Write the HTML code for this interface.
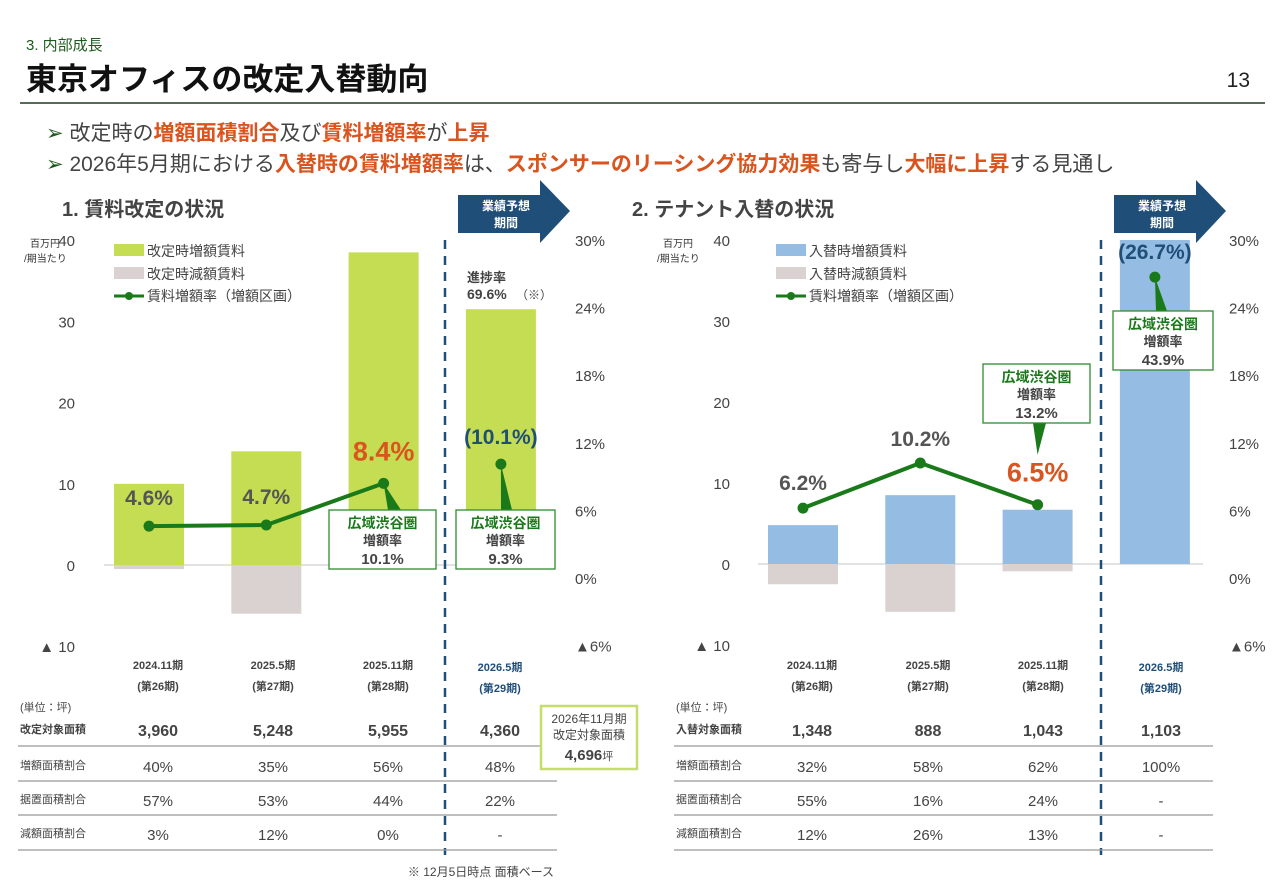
<!DOCTYPE html>
<html><head><meta charset="utf-8">
<style>
html,body{margin:0;padding:0;background:#fff;}
svg{display:block;font-family:"Liberation Sans","Noto Sans CJK JP",sans-serif;}
</style></head>
<body>
<svg id="s" width="1280" height="886" viewBox="0 0 1280 886" xmlns="http://www.w3.org/2000/svg">
<text x="26" y="50" font-size="15" fill="#1e5a1e">3. 内部成長</text>
<text x="26" y="90" font-size="31" font-weight="bold" fill="#111">東京オフィスの改定入替動向</text>
<text x="1250" y="87" font-size="21" fill="#222" text-anchor="end">13</text>
<rect x="20" y="102" width="1245" height="2" fill="#5a6a5a"/>
<text x="46" y="140" font-size="21" fill="#444"><tspan fill="#1e5a1e">➢</tspan> 改定時の<tspan fill="#d9541e" font-weight="bold">増額面積割合</tspan>及び<tspan fill="#d9541e" font-weight="bold">賃料増額率</tspan>が<tspan fill="#d9541e" font-weight="bold">上昇</tspan></text>
<text x="46" y="171" font-size="21" fill="#444"><tspan fill="#1e5a1e">➢</tspan> 2026年5月期における<tspan fill="#d9541e" font-weight="bold">入替時の賃料増額率</tspan>は、<tspan fill="#d9541e" font-weight="bold">スポンサーのリーシング協力効果</tspan>も寄与し<tspan fill="#d9541e" font-weight="bold">大幅に上昇</tspan>する見通し</text>
<text x="62" y="216" font-size="20" font-weight="bold" fill="#444">1. 賃料改定の状況</text>
<text x="632" y="216" font-size="20" font-weight="bold" fill="#444">2. テナント入替の状況</text>
<g id="c1"></g><g id="c2"></g>
<text x="554" y="876" font-size="12" fill="#444" text-anchor="end">※ 12月5日時点 面積ベース</text>
</svg>
<script>
const periods = ["2024.11期","2025.5期","2025.11期","2026.5期"];
const periodNos = ["(第26期)","(第27期)","(第28期)","(第29期)"];
const c1Increase = [10, 14, 38.5, 31.5];
const c1Decrease = [-0.5, -6, 0, 0];
const c1Rate = [4.6, 4.7, 8.4, 10.1];
const c1RateLabels = ["4.6%","4.7%","8.4%","(10.1%)"];
const c2Increase = [4.8, 8.5, 6.7, 40];
const c2Decrease = [-2.5, -5.9, -0.9, 0];
const c2Rate = [6.2, 10.2, 6.5, 26.7];
const c2RateLabels = ["6.2%","10.2%","6.5%","(26.7%)"];
const leftTicks = [40,30,20,10,0,-10];
const rightTicks = [30,24,18,12,6,0,-6];
const t1Area = ["3,960","5,248","5,955","4,360"];
const t1Inc = ["40%","35%","56%","48%"];
const t1Flat = ["57%","53%","44%","22%"];
const t1Dec = ["3%","12%","0%","-"];
const t2Area = ["1,348","888","1,043","1,103"];
const t2Inc = ["32%","58%","62%","100%"];
const t2Flat = ["55%","16%","24%","-"];
const t2Dec = ["12%","26%","13%","-"];

const NS="http://www.w3.org/2000/svg";
function mk(p,tag,a,txt){const e=document.createElementNS(NS,tag);for(const k in a)e.setAttribute(k,a[k]);if(txt!==undefined)e.textContent=txt;p.appendChild(e);return e;}

function chart(g,o){
  const y=v=>o.y0-v*o.pxu;
  const yr=v=>578-v*11.27;
  const xc=i=>o.x0+i*117.3;
  leftTicks.forEach(t=>{const e=mk(g,'text',{x:o.lx,y:y(t)+6,'font-size':15,fill:'#444','text-anchor':'end'},t<0?'▲ '+(-t):String(t));
    
    });
  rightTicks.forEach(t=>{const e=mk(g,'text',{x:o.rx,y:yr(t)+6,'font-size':15,fill:'#444'},t<0?'▲'+(-t)+'%':t+'%');
    
    });
  const u1=mk(g,'text',{x:o.ux,y:247,'font-size':10,fill:'#333'},'百万円');
  
  
  mk(g,'text',{x:o.ux-6,y:262,'font-size':10,fill:'#333'},'/期当たり');
  const z=mk(g,'line',{x1:o.x0-45,x2:o.x0+400,y1:y(0),y2:y(0),stroke:'#d8d8d8','stroke-width':1.5});
  
  
  o.inc.forEach((v,i)=>{const b=mk(g,'rect',{x:xc(i)-35,y:y(v),width:70,height:y(0)-y(v),fill:o.col});
    
    });
  o.dec.forEach((v,i)=>{if(v===0)return;const b=mk(g,'rect',{x:xc(i)-35,y:y(0),width:70,height:y(v)-y(0),fill:'#d9d2d0'});
    
    });
  const lg=[[o.leg1,o.col],[o.leg2,'#d9d2d0']];
  lg.forEach((l,i)=>{const r=mk(g,'rect',{x:o.legx,y:244+i*23,width:30,height:12,fill:l[1]});
    
    
    const t=mk(g,'text',{x:o.legx+33,y:256+i*23,'font-size':14,fill:'#444'},l[0]);
    
    });
  mk(g,'line',{x1:o.legx,x2:o.legx+30,y1:296,y2:296,stroke:'#1a7a1a','stroke-width':3});
  mk(g,'circle',{cx:o.legx+15,cy:296,r:4,fill:'#1a7a1a'});
  const lt=mk(g,'text',{x:o.legx+33,y:301,'font-size':14,fill:'#444'},'賃料増額率（増額区画）');
  
  
  const pts=o.rate.slice(0,3).map((v,i)=>xc(i)+','+yr(v)).join(' ');
  const pl=mk(g,'polyline',{points:pts,fill:'none',stroke:'#1a7a1a','stroke-width':4});
  
  
  o.rate.forEach((v,i)=>{const c=mk(g,'circle',{cx:xc(i),cy:yr(v),r:5.5,fill:'#1a7a1a'});
    
    });
  o.rate.forEach((v,i)=>{const col=i===2?'#d9541e':(i===3?'#1f4e79':'#555');const fs=i===2?27:21;
    const t=mk(g,'text',{x:xc(i),y:yr(v)+o.labelDy[i],'font-size':fs,'font-weight':'bold',fill:col,'text-anchor':'middle'},o.labels[i]);
    
    });
  const d=mk(g,'line',{x1:o.dx,x2:o.dx,y1:240,y2:855,stroke:'#1f4e79','stroke-width':2.5,'stroke-dasharray':'9,7'});
  
  
  const ax=o.dx+13;
  const ar=mk(g,'path',{d:`M${ax},195 H${ax+82} V180 L${ax+112},211 L${ax+82},243 V233 H${ax} Z`,fill:'#1f4e79'});
  
  
  mk(g,'text',{x:ax+48,y:210,'font-size':12,'font-weight':'bold',fill:'#fff','text-anchor':'middle'},'業績予想');
  mk(g,'text',{x:ax+48,y:227,'font-size':12,'font-weight':'bold',fill:'#fff','text-anchor':'middle'},'期間');
  o.callouts.forEach(c=>{
    const i=c.idx; const px=xc(i), py=yr(o.rate[i]);
    const by=c.flip?c.y+59:c.y;
    mk(g,'path',{d:`M${px},${c.flip?py-50:py} L${c.bx},${by} L${c.bx2},${by}Z`,fill:'#1a7a1a'});
    const r=mk(g,'rect',{x:c.x,y:c.y,width:c.w,height:59,fill:'#fff',stroke:'#2e8b2e','stroke-width':1.3});
    
    
    const cx=c.x+c.w/2;
    mk(g,'text',{x:cx,y:c.y+18,'font-size':14,'font-weight':'bold',fill:'#1a7a1a','text-anchor':'middle'},'広域渋谷圏');
    mk(g,'text',{x:cx,y:c.y+35,'font-size':13,'font-weight':'bold',fill:'#444','text-anchor':'middle'},'増額率');
    mk(g,'text',{x:cx,y:c.y+54,'font-size':15,'font-weight':'bold',fill:'#444','text-anchor':'middle'},c.v);
  });
  const tc=i=>o.tc[i];
  periods.forEach((p,i)=>{const col=i===3?'#1f4e79':'#444';const yy=i===3?2:0;
    const t=mk(g,'text',{x:tc(i),y:669+yy,'font-size':11,'font-weight':'bold',fill:col,'text-anchor':'middle'},p);
    
    
    mk(g,'text',{x:tc(i),y:690+yy,'font-size':11,'font-weight':'bold',fill:col,'text-anchor':'middle'},periodNos[i]);});
  mk(g,'text',{x:o.tx,y:711,'font-size':11,fill:'#444'},'(単位：坪)');
  const rows=[[o.rowNames[0],o.area,734,true],[o.rowNames[1],o.tInc,770],[o.rowNames[2],o.tFlat,804],[o.rowNames[3],o.tDec,838]];
  rows.forEach(r=>{const n=mk(g,'text',{x:o.tx,y:r[2]-1,'font-size':11,'font-weight':r[3]?'bold':'normal',fill:'#444'},r[0]);
    
    
    r[1].forEach((v,i)=>{const t=mk(g,'text',{x:tc(i),y:r[2]+2,'font-size':r[3]?16:15,'font-weight':r[3]?'bold':'normal',fill:'#444','text-anchor':'middle'},v);
      
      });});
  [746,781,815,850].forEach(yy=>mk(g,'line',{x1:o.tx-2,x2:o.tx2,y1:yy,y2:yy,stroke:'#999','stroke-width':1.3}));
}

chart(document.getElementById('c1'),{y0:565,pxu:8.12,x0:149,lx:75,rx:575,ux:30,col:'#c5dd52',
  inc:c1Increase,dec:c1Decrease,rate:c1Rate,labels:c1RateLabels,labelDy:[-21,-21,-23,-20],
  leg1:'改定時増額賃料',leg2:'改定時減額賃料',legx:114,dx:445,
  callouts:[{idx:2,x:329,y:510,w:107,v:'10.1%',bx:388,bx2:401},{idx:3,x:456,y:510,w:99,v:'9.3%',bx:501,bx2:512}],
  tc:[158,273,388,500],tx:20,tx2:557,area:t1Area,tInc:t1Inc,tFlat:t1Flat,tDec:t1Dec,
  rowNames:['改定対象面積','増額面積割合','据置面積割合','減額面積割合']});
chart(document.getElementById('c2'),{y0:564,pxu:8.1,x0:803,lx:730,rx:1229,ux:663,col:'#95bde3',
  inc:c2Increase,dec:c2Decrease,rate:c2Rate,labels:c2RateLabels,labelDy:[-18,-17,-23,-18],
  leg1:'入替時増額賃料',leg2:'入替時減額賃料',legx:776,dx:1101,
  callouts:[{idx:2,x:983,y:364,w:107,v:'13.2%',bx:1033,bx2:1046,flip:1},{idx:3,x:1113,y:311,w:100,v:'43.9%',bx:1156,bx2:1167}],
  tc:[812,928,1043,1161],tx:676,tx2:1213,area:t2Area,tInc:t2Inc,tFlat:t2Flat,tDec:t2Dec,
  rowNames:['入替対象面積','増額面積割合','据置面積割合','減額面積割合']});

const s=document.getElementById('s');
const pg=mk(s,'text',{x:467,y:282,'font-size':13,'font-weight':'bold',fill:'#444'},'進捗率');


mk(s,'text',{x:467,y:299,'font-size':14,'font-weight':'bold',fill:'#444'},'69.6%');
mk(s,'text',{x:516,y:299,'font-size':12,fill:'#444'},'（※）');
const gb=mk(s,'rect',{x:541,y:706,width:96,height:63,fill:'#fff',stroke:'#c5dd6a','stroke-width':2.5});


mk(s,'text',{x:589,y:723,'font-size':12,fill:'#444','text-anchor':'middle'},'2026年11月期');
mk(s,'text',{x:589,y:739,'font-size':12,fill:'#444','text-anchor':'middle'},'改定対象面積');
const gt=mk(s,'text',{x:589,y:760,'font-size':15,'font-weight':'bold',fill:'#444','text-anchor':'middle'},'4,696');
mk(gt,'tspan',{'font-size':11,'font-weight':'normal'},'坪');
</script>
</body></html>
